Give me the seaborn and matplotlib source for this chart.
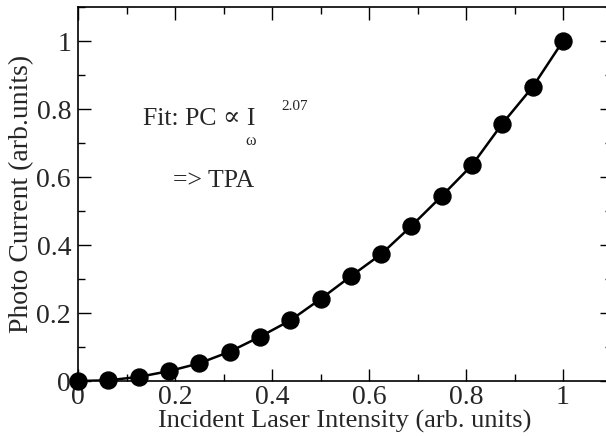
import matplotlib
matplotlib.use("Agg")
import matplotlib.pyplot as plt
import seaborn as sns
import pandas as pd
from matplotlib.ticker import MultipleLocator

# laser intensity (arb. units) and photo current (arb. units)
intensity = [0, 0.0625, 0.125, 0.1875, 0.25, 0.3125, 0.375, 0.4375, 0.5,
             0.5625, 0.625, 0.6875, 0.75, 0.8125, 0.875, 0.9375, 1.0]
current = [0.0, 0.002, 0.012, 0.029, 0.052, 0.086, 0.130, 0.178, 0.241,
           0.308, 0.373, 0.456, 0.544, 0.635, 0.757, 0.865, 1.0]

df = pd.DataFrame({"I": intensity, "PC": current})

sns.set_style("ticks")
plt.rcParams["font.family"] = ["Liberation Serif", "DejaVu Serif"]

fig = plt.figure(figsize=(6.06, 4.36), dpi=100)
ax = fig.add_axes([78 / 606, 55 / 436, 533.5 / 606, 374 / 436])

sns.lineplot(data=df, x="I", y="PC", ax=ax, color="black", linewidth=1.8)
sns.scatterplot(data=df, x="I", y="PC", ax=ax, color="black", s=150,
                edgecolor="black", zorder=3, clip_on=False)

ax.set_xlim(0, 1.1)
ax.set_ylim(0, 1.1)
ax.xaxis.set_minor_locator(MultipleLocator(0.1))
ax.yaxis.set_minor_locator(MultipleLocator(0.1))
ax.set_xticks([0, 0.2, 0.4, 0.6, 0.8, 1.0], ["0", "0.2", "0.4", "0.6", "0.8", "1"])
ax.set_yticks([0, 0.2, 0.4, 0.6, 0.8, 1.0], ["0", "0.2", "0.4", "0.6", "0.8", "1"])
ax.tick_params(which="both", direction="in", top=True, right=True,
               labelsize=20, width=1, color="black")
ax.tick_params(axis="y", pad=5)
ax.tick_params(axis="x", pad=3)
ax.tick_params(which="major", length=9)
ax.tick_params(which="minor", length=5)
for sp in ax.spines.values():
    sp.set_visible(True)
    sp.set_linewidth(1.2)
    sp.set_color("black")

ax.set_xlabel("Incident Laser Intensity (arb. units)", fontsize=19, labelpad=0)
ax.set_ylabel("Photo Current (arb.units)", fontsize=20, labelpad=2)

ax.text(0.134, 0.753, "Fit: PC \u221d I", fontsize=18.5)
ax.text(0.345, 0.694, "\u03c9", fontsize=11.5)
ax.text(0.42, 0.797, "2.07", fontsize=11)
ax.text(0.196, 0.571, "=> TPA", fontsize=18.5)

fig.savefig("out.png", dpi=100)
